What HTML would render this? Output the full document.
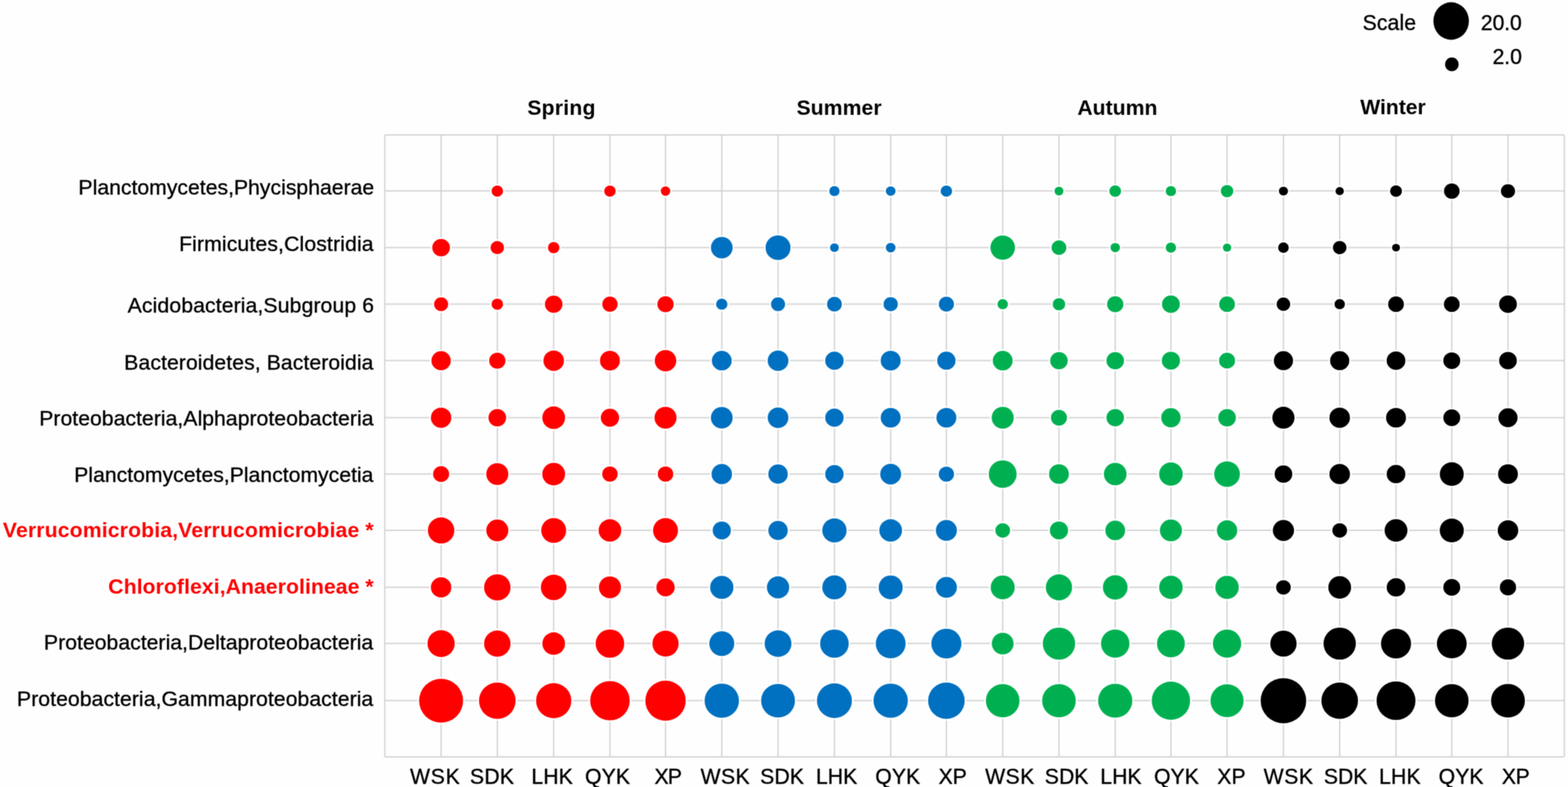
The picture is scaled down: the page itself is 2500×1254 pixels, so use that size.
<!DOCTYPE html>
<html lang="en">
<head>
<meta charset="utf-8">
<title>Seasonal bubble chart</title>
<style>
html,body{margin:0;padding:0;background:#fff;}
body{width:2500px;height:1254px;}
svg{display:block;}
text{font-family:"Liberation Sans",Arial,Helvetica,sans-serif;font-size:33.8px;fill:#000;stroke:#000;stroke-width:0.5px;stroke-linejoin:round;}
text.b{stroke:none;}
text.r{fill:#ff0000;}
</style>
</head>
<body>
<svg width="2500" height="1254" viewBox="0 0 2500 1254">
<defs><filter id="soft" x="0" y="0" width="2500" height="1254" filterUnits="userSpaceOnUse" color-interpolation-filters="sRGB"><feConvolveMatrix order="3" kernelMatrix="0.0439 0.1217 0.0439 0.1217 0.3377 0.1217 0.0439 0.1217 0.0439" edgeMode="duplicate" preserveAlpha="false"/></filter></defs>
<g id="chart" filter="url(#soft)">
<rect width="2500" height="1254" fill="#fefefe"/>
<g id="grid" fill="none" stroke="#d1d1d1" stroke-width="2">
<rect x="613.5" y="215.0" width="1880.7" height="990.9" rx="2"/>
<path d="M703.30 215.0V1205.9M792.90 215.0V1205.9M882.75 215.0V1205.9M972.50 215.0V1205.9M1061.10 215.0V1205.9M1150.80 215.0V1205.9M1240.50 215.0V1205.9M1330.40 215.0V1205.9M1420.10 215.0V1205.9M1508.90 215.0V1205.9M1598.70 215.0V1205.9M1688.40 215.0V1205.9M1778.10 215.0V1205.9M1866.90 215.0V1205.9M1956.40 215.0V1205.9M2046.30 215.0V1205.9M2136.00 215.0V1205.9M2225.80 215.0V1205.9M2314.70 215.0V1205.9M2404.30 215.0V1205.9M613.5 304.3H2494.2M613.5 394.4H2494.2M613.5 484.5H2494.2M613.5 574.5H2494.2M613.5 665.4H2494.2M613.5 755.2H2494.2M613.5 845.0H2494.2M613.5 935.7H2494.2M613.5 1025.3H2494.2M613.5 1116.3H2494.2"/>
</g>
<g id="spring" fill="#ff0000" stroke="#fff" stroke-width="5" paint-order="stroke">
<ellipse cx="792.9" cy="304.5" rx="9.2" ry="9.0"/>
<ellipse cx="972.5" cy="304.5" rx="9.2" ry="9.0"/>
<ellipse cx="1061.1" cy="304.5" rx="7.6" ry="7.4"/>
<ellipse cx="703.3" cy="394.6" rx="14.1" ry="13.9"/>
<ellipse cx="792.9" cy="394.6" rx="10.7" ry="10.5"/>
<ellipse cx="882.8" cy="394.6" rx="9.2" ry="9.0"/>
<ellipse cx="703.3" cy="484.7" rx="11.2" ry="11.0"/>
<ellipse cx="792.9" cy="484.7" rx="9.2" ry="9.0"/>
<ellipse cx="882.8" cy="484.7" rx="14.0" ry="13.8"/>
<ellipse cx="972.5" cy="484.7" rx="12.3" ry="12.1"/>
<ellipse cx="1061.1" cy="484.7" rx="13.0" ry="12.8"/>
<ellipse cx="703.3" cy="574.7" rx="15.4" ry="15.2"/>
<ellipse cx="792.9" cy="574.7" rx="13.0" ry="12.8"/>
<ellipse cx="882.8" cy="574.7" rx="16.4" ry="16.2"/>
<ellipse cx="972.5" cy="574.7" rx="15.9" ry="15.7"/>
<ellipse cx="1061.1" cy="574.7" rx="17.2" ry="17.0"/>
<ellipse cx="703.3" cy="665.6" rx="16.3" ry="16.1"/>
<ellipse cx="792.9" cy="665.6" rx="14.1" ry="13.9"/>
<ellipse cx="882.8" cy="665.6" rx="18.2" ry="18.0"/>
<ellipse cx="972.5" cy="665.6" rx="14.6" ry="14.4"/>
<ellipse cx="1061.1" cy="665.6" rx="17.6" ry="17.4"/>
<ellipse cx="703.3" cy="755.4" rx="12.8" ry="12.6"/>
<ellipse cx="792.9" cy="755.4" rx="17.6" ry="17.4"/>
<ellipse cx="882.8" cy="755.4" rx="18.2" ry="18.0"/>
<ellipse cx="972.5" cy="755.4" rx="12.3" ry="12.1"/>
<ellipse cx="1061.1" cy="755.4" rx="12.3" ry="12.1"/>
<ellipse cx="703.3" cy="845.2" rx="21.1" ry="20.9"/>
<ellipse cx="792.9" cy="845.2" rx="17.6" ry="17.4"/>
<ellipse cx="882.8" cy="845.2" rx="19.9" ry="19.7"/>
<ellipse cx="972.5" cy="845.2" rx="18.1" ry="17.9"/>
<ellipse cx="1061.1" cy="845.2" rx="19.9" ry="19.7"/>
<ellipse cx="703.3" cy="935.9" rx="16.3" ry="16.1"/>
<ellipse cx="792.9" cy="935.9" rx="21.1" ry="20.9"/>
<ellipse cx="882.8" cy="935.9" rx="20.5" ry="20.3"/>
<ellipse cx="972.5" cy="935.9" rx="17.6" ry="17.4"/>
<ellipse cx="1061.1" cy="935.9" rx="14.6" ry="14.4"/>
<ellipse cx="703.3" cy="1025.5" rx="21.7" ry="21.5"/>
<ellipse cx="792.9" cy="1025.5" rx="21.1" ry="20.9"/>
<ellipse cx="882.8" cy="1025.5" rx="18.1" ry="17.9"/>
<ellipse cx="972.5" cy="1025.5" rx="22.8" ry="22.6"/>
<ellipse cx="1061.1" cy="1025.5" rx="20.9" ry="20.7"/>
<ellipse cx="703.3" cy="1116.5" rx="35.1" ry="34.9"/>
<ellipse cx="792.9" cy="1116.5" rx="29.2" ry="29.0"/>
<ellipse cx="882.8" cy="1116.5" rx="28.1" ry="27.9"/>
<ellipse cx="972.5" cy="1116.5" rx="31.5" ry="31.3"/>
<ellipse cx="1061.1" cy="1116.5" rx="32.2" ry="32.0"/>
</g>
<g id="summer" fill="#0070c0" stroke="#fff" stroke-width="5" paint-order="stroke">
<ellipse cx="1330.4" cy="304.5" rx="8.2" ry="8.0"/>
<ellipse cx="1420.1" cy="304.5" rx="7.8" ry="7.6"/>
<ellipse cx="1508.9" cy="304.5" rx="9.2" ry="9.0"/>
<ellipse cx="1150.8" cy="394.6" rx="17.3" ry="17.1"/>
<ellipse cx="1240.5" cy="394.6" rx="19.9" ry="19.7"/>
<ellipse cx="1330.4" cy="394.6" rx="7.1" ry="6.9"/>
<ellipse cx="1420.1" cy="394.6" rx="7.8" ry="7.6"/>
<ellipse cx="1150.8" cy="484.7" rx="9.1" ry="8.9"/>
<ellipse cx="1240.5" cy="484.7" rx="11.2" ry="11.0"/>
<ellipse cx="1330.4" cy="484.7" rx="11.8" ry="11.6"/>
<ellipse cx="1420.1" cy="484.7" rx="11.4" ry="11.2"/>
<ellipse cx="1508.9" cy="484.7" rx="12.1" ry="11.9"/>
<ellipse cx="1150.8" cy="574.7" rx="15.8" ry="15.6"/>
<ellipse cx="1240.5" cy="574.7" rx="16.5" ry="16.3"/>
<ellipse cx="1330.4" cy="574.7" rx="14.7" ry="14.5"/>
<ellipse cx="1420.1" cy="574.7" rx="15.9" ry="15.7"/>
<ellipse cx="1508.9" cy="574.7" rx="14.6" ry="14.4"/>
<ellipse cx="1150.8" cy="665.6" rx="17.4" ry="17.2"/>
<ellipse cx="1240.5" cy="665.6" rx="16.5" ry="16.3"/>
<ellipse cx="1330.4" cy="665.6" rx="14.7" ry="14.5"/>
<ellipse cx="1420.1" cy="665.6" rx="15.9" ry="15.7"/>
<ellipse cx="1508.9" cy="665.6" rx="15.9" ry="15.7"/>
<ellipse cx="1150.8" cy="755.4" rx="16.3" ry="16.1"/>
<ellipse cx="1240.5" cy="755.4" rx="15.5" ry="15.3"/>
<ellipse cx="1330.4" cy="755.4" rx="14.7" ry="14.5"/>
<ellipse cx="1420.1" cy="755.4" rx="16.7" ry="16.5"/>
<ellipse cx="1508.9" cy="755.4" rx="12.2" ry="12.0"/>
<ellipse cx="1150.8" cy="845.2" rx="14.5" ry="14.3"/>
<ellipse cx="1240.5" cy="845.2" rx="15.5" ry="15.3"/>
<ellipse cx="1330.4" cy="845.2" rx="19.4" ry="19.2"/>
<ellipse cx="1420.1" cy="845.2" rx="18.1" ry="17.9"/>
<ellipse cx="1508.9" cy="845.2" rx="16.8" ry="16.6"/>
<ellipse cx="1150.8" cy="935.9" rx="18.6" ry="18.4"/>
<ellipse cx="1240.5" cy="935.9" rx="17.8" ry="17.6"/>
<ellipse cx="1330.4" cy="935.9" rx="19.4" ry="19.2"/>
<ellipse cx="1420.1" cy="935.9" rx="19.2" ry="19.0"/>
<ellipse cx="1508.9" cy="935.9" rx="16.8" ry="16.6"/>
<ellipse cx="1150.8" cy="1025.5" rx="19.9" ry="19.7"/>
<ellipse cx="1240.5" cy="1025.5" rx="21.4" ry="21.2"/>
<ellipse cx="1330.4" cy="1025.5" rx="22.8" ry="22.6"/>
<ellipse cx="1420.1" cy="1025.5" rx="23.8" ry="23.6"/>
<ellipse cx="1508.9" cy="1025.5" rx="24.0" ry="23.8"/>
<ellipse cx="1150.8" cy="1116.5" rx="27.4" ry="27.2"/>
<ellipse cx="1240.5" cy="1116.5" rx="27.0" ry="26.8"/>
<ellipse cx="1330.4" cy="1116.5" rx="27.9" ry="27.7"/>
<ellipse cx="1420.1" cy="1116.5" rx="27.4" ry="27.2"/>
<ellipse cx="1508.9" cy="1116.5" rx="29.2" ry="29.0"/>
</g>
<g id="autumn" fill="#00b050" stroke="#fff" stroke-width="5" paint-order="stroke">
<ellipse cx="1688.4" cy="304.5" rx="7.1" ry="6.9"/>
<ellipse cx="1778.1" cy="304.5" rx="9.4" ry="9.2"/>
<ellipse cx="1866.9" cy="304.5" rx="8.3" ry="8.1"/>
<ellipse cx="1956.4" cy="304.5" rx="10.0" ry="9.8"/>
<ellipse cx="1598.7" cy="394.6" rx="19.6" ry="19.4"/>
<ellipse cx="1688.4" cy="394.6" rx="11.8" ry="11.6"/>
<ellipse cx="1778.1" cy="394.6" rx="7.6" ry="7.4"/>
<ellipse cx="1866.9" cy="394.6" rx="8.3" ry="8.1"/>
<ellipse cx="1956.4" cy="394.6" rx="6.7" ry="6.5"/>
<ellipse cx="1598.7" cy="484.7" rx="8.3" ry="8.1"/>
<ellipse cx="1688.4" cy="484.7" rx="10.0" ry="9.8"/>
<ellipse cx="1778.1" cy="484.7" rx="13.0" ry="12.8"/>
<ellipse cx="1866.9" cy="484.7" rx="14.2" ry="14.0"/>
<ellipse cx="1956.4" cy="484.7" rx="12.6" ry="12.4"/>
<ellipse cx="1598.7" cy="574.7" rx="15.8" ry="15.6"/>
<ellipse cx="1688.4" cy="574.7" rx="14.0" ry="13.8"/>
<ellipse cx="1778.1" cy="574.7" rx="14.0" ry="13.8"/>
<ellipse cx="1866.9" cy="574.7" rx="14.5" ry="14.3"/>
<ellipse cx="1956.4" cy="574.7" rx="12.8" ry="12.6"/>
<ellipse cx="1598.7" cy="665.6" rx="17.6" ry="17.4"/>
<ellipse cx="1688.4" cy="665.6" rx="12.8" ry="12.6"/>
<ellipse cx="1778.1" cy="665.6" rx="14.0" ry="13.8"/>
<ellipse cx="1866.9" cy="665.6" rx="15.5" ry="15.3"/>
<ellipse cx="1956.4" cy="665.6" rx="14.1" ry="13.9"/>
<ellipse cx="1598.7" cy="755.4" rx="22.2" ry="22.0"/>
<ellipse cx="1688.4" cy="755.4" rx="15.8" ry="15.6"/>
<ellipse cx="1778.1" cy="755.4" rx="18.1" ry="17.9"/>
<ellipse cx="1866.9" cy="755.4" rx="18.8" ry="18.6"/>
<ellipse cx="1956.4" cy="755.4" rx="20.5" ry="20.3"/>
<ellipse cx="1598.7" cy="845.2" rx="11.7" ry="11.5"/>
<ellipse cx="1688.4" cy="845.2" rx="14.5" ry="14.3"/>
<ellipse cx="1778.1" cy="845.2" rx="15.8" ry="15.6"/>
<ellipse cx="1866.9" cy="845.2" rx="17.6" ry="17.4"/>
<ellipse cx="1956.4" cy="845.2" rx="16.3" ry="16.1"/>
<ellipse cx="1598.7" cy="935.9" rx="19.2" ry="19.0"/>
<ellipse cx="1688.4" cy="935.9" rx="21.0" ry="20.8"/>
<ellipse cx="1778.1" cy="935.9" rx="19.7" ry="19.5"/>
<ellipse cx="1866.9" cy="935.9" rx="18.8" ry="18.6"/>
<ellipse cx="1956.4" cy="935.9" rx="18.7" ry="18.5"/>
<ellipse cx="1598.7" cy="1025.5" rx="17.4" ry="17.2"/>
<ellipse cx="1688.4" cy="1025.5" rx="25.8" ry="25.6"/>
<ellipse cx="1778.1" cy="1025.5" rx="22.7" ry="22.5"/>
<ellipse cx="1866.9" cy="1025.5" rx="22.2" ry="22.0"/>
<ellipse cx="1956.4" cy="1025.5" rx="22.6" ry="22.4"/>
<ellipse cx="1598.7" cy="1116.5" rx="26.8" ry="26.6"/>
<ellipse cx="1688.4" cy="1116.5" rx="26.8" ry="26.6"/>
<ellipse cx="1778.1" cy="1116.5" rx="27.3" ry="27.1"/>
<ellipse cx="1866.9" cy="1116.5" rx="30.6" ry="30.4"/>
<ellipse cx="1956.4" cy="1116.5" rx="26.4" ry="26.2"/>
</g>
<g id="winter" fill="#000000" stroke="#fff" stroke-width="5" paint-order="stroke">
<ellipse cx="2046.3" cy="304.5" rx="7.3" ry="7.1"/>
<ellipse cx="2136.0" cy="304.5" rx="6.7" ry="6.5"/>
<ellipse cx="2225.8" cy="304.5" rx="9.5" ry="9.3"/>
<ellipse cx="2314.7" cy="304.5" rx="12.4" ry="12.2"/>
<ellipse cx="2404.3" cy="304.5" rx="11.3" ry="11.1"/>
<ellipse cx="2046.3" cy="394.6" rx="8.5" ry="8.3"/>
<ellipse cx="2136.0" cy="394.6" rx="10.8" ry="10.6"/>
<ellipse cx="2225.8" cy="394.6" rx="6.4" ry="6.2"/>
<ellipse cx="2046.3" cy="484.7" rx="10.8" ry="10.6"/>
<ellipse cx="2136.0" cy="484.7" rx="8.3" ry="8.1"/>
<ellipse cx="2225.8" cy="484.7" rx="12.6" ry="12.4"/>
<ellipse cx="2314.7" cy="484.7" rx="12.6" ry="12.4"/>
<ellipse cx="2404.3" cy="484.7" rx="14.2" ry="14.0"/>
<ellipse cx="2046.3" cy="574.7" rx="15.3" ry="15.1"/>
<ellipse cx="2136.0" cy="574.7" rx="15.3" ry="15.1"/>
<ellipse cx="2225.8" cy="574.7" rx="14.9" ry="14.7"/>
<ellipse cx="2314.7" cy="574.7" rx="13.5" ry="13.3"/>
<ellipse cx="2404.3" cy="574.7" rx="14.1" ry="13.9"/>
<ellipse cx="2046.3" cy="665.6" rx="17.7" ry="17.5"/>
<ellipse cx="2136.0" cy="665.6" rx="16.4" ry="16.2"/>
<ellipse cx="2225.8" cy="665.6" rx="15.9" ry="15.7"/>
<ellipse cx="2314.7" cy="665.6" rx="13.5" ry="13.3"/>
<ellipse cx="2404.3" cy="665.6" rx="15.3" ry="15.1"/>
<ellipse cx="2046.3" cy="755.4" rx="14.1" ry="13.9"/>
<ellipse cx="2136.0" cy="755.4" rx="16.4" ry="16.2"/>
<ellipse cx="2225.8" cy="755.4" rx="14.9" ry="14.7"/>
<ellipse cx="2314.7" cy="755.4" rx="19.1" ry="18.9"/>
<ellipse cx="2404.3" cy="755.4" rx="15.8" ry="15.6"/>
<ellipse cx="2046.3" cy="845.2" rx="16.9" ry="16.7"/>
<ellipse cx="2136.0" cy="845.2" rx="11.7" ry="11.5"/>
<ellipse cx="2225.8" cy="845.2" rx="18.2" ry="18.0"/>
<ellipse cx="2314.7" cy="845.2" rx="19.2" ry="19.0"/>
<ellipse cx="2404.3" cy="845.2" rx="16.4" ry="16.2"/>
<ellipse cx="2046.3" cy="935.9" rx="11.7" ry="11.5"/>
<ellipse cx="2136.0" cy="935.9" rx="18.2" ry="18.0"/>
<ellipse cx="2225.8" cy="935.9" rx="14.9" ry="14.7"/>
<ellipse cx="2314.7" cy="935.9" rx="13.5" ry="13.3"/>
<ellipse cx="2404.3" cy="935.9" rx="13.0" ry="12.8"/>
<ellipse cx="2046.3" cy="1025.5" rx="21.0" ry="20.8"/>
<ellipse cx="2136.0" cy="1025.5" rx="25.8" ry="25.6"/>
<ellipse cx="2225.8" cy="1025.5" rx="24.0" ry="23.8"/>
<ellipse cx="2314.7" cy="1025.5" rx="23.8" ry="23.6"/>
<ellipse cx="2404.3" cy="1025.5" rx="25.8" ry="25.6"/>
<ellipse cx="2046.3" cy="1116.5" rx="36.3" ry="36.1"/>
<ellipse cx="2136.0" cy="1116.5" rx="29.2" ry="29.0"/>
<ellipse cx="2225.8" cy="1116.5" rx="31.0" ry="30.8"/>
<ellipse cx="2314.7" cy="1116.5" rx="26.8" ry="26.6"/>
<ellipse cx="2404.3" cy="1116.5" rx="27.0" ry="26.8"/>
</g>
<g id="legend" fill="#000"><ellipse cx="2313.7" cy="33.5" rx="28.3" ry="29.9"/><ellipse cx="2314.8" cy="102.5" rx="10.8" ry="11.1"/></g>
<g id="labels">
<text id="t0" x="125.09" y="309.70" textLength="471.52" lengthAdjust="spacing" xml:space="preserve">Planctomycetes,Phycisphaerae</text>
<text id="t1" x="285.38" y="399.80" textLength="310.28" lengthAdjust="spacing" xml:space="preserve">Firmicutes,Clostridia</text>
<text id="t2" x="203.56" y="497.50" textLength="392.75" lengthAdjust="spacing" xml:space="preserve">Acidobacteria,Subgroup 6</text>
<text id="t3" x="198.09" y="588.90" textLength="397.31" lengthAdjust="spacing" xml:space="preserve">Bacteroidetes, Bacteroidia</text>
<text id="t4" x="62.52" y="678.10" textLength="532.98" lengthAdjust="spacing" xml:space="preserve">Proteobacteria,Alphaproteobacteria</text>
<text id="t5" x="118.33" y="768.40" textLength="477.07" lengthAdjust="spacing" xml:space="preserve">Planctomycetes,Planctomycetia</text>
<text id="t6" x="4.57" y="856.20" textLength="591.21" lengthAdjust="spacing" font-weight="700" class="b r" xml:space="preserve">Verrucomicrobia,Verrucomicrobiae *</text>
<text id="t7" x="172.61" y="945.80" textLength="423.17" lengthAdjust="spacing" font-weight="700" class="b r" xml:space="preserve">Chloroflexi,Anaerolineae *</text>
<text id="t8" x="70.09" y="1035.20" textLength="525.04" lengthAdjust="spacing" xml:space="preserve">Proteobacteria,Deltaproteobacteria</text>
<text id="t9" x="27.09" y="1124.50" textLength="568.08" lengthAdjust="spacing" xml:space="preserve">Proteobacteria,Gammaproteobacteria</text>
<text id="t10" x="840.68" y="182.80" textLength="108.83" lengthAdjust="spacing" font-weight="700" class="b" xml:space="preserve">Spring</text>
<text id="t11" x="1269.98" y="182.80" textLength="135.67" lengthAdjust="spacing" font-weight="700" class="b" xml:space="preserve">Summer</text>
<text id="t12" x="1717.70" y="182.80" textLength="127.67" lengthAdjust="spacing" font-weight="700" class="b" xml:space="preserve">Autumn</text>
<text id="t13" x="2168.86" y="182.40" textLength="104.26" lengthAdjust="spacing" font-weight="700" class="b" xml:space="preserve">Winter</text>
<text id="t14" x="2172.57" y="0" transform="translate(0 47.80) scale(1 1.02)" textLength="85.20" lengthAdjust="spacing" xml:space="preserve">Scale</text>
<text id="t15" x="2361.03" y="0" transform="translate(0 47.80) scale(1 1.02)" textLength="65.26" lengthAdjust="spacing" xml:space="preserve">20.0</text>
<text id="t16" x="2379.65" y="0" transform="translate(0 101.80) scale(1 1.02)" textLength="46.81" lengthAdjust="spacing" xml:space="preserve">2.0</text>
<text id="t17" x="653.80" y="0" transform="translate(0 1248.70) scale(1 1.04)" textLength="79.23" lengthAdjust="spacing" xml:space="preserve">WSK</text>
<text id="t18" x="749.35" y="0" transform="translate(0 1248.70) scale(1 1.04)" textLength="70.23" lengthAdjust="spacing" xml:space="preserve">SDK</text>
<text id="t19" x="847.13" y="0" transform="translate(0 1248.70) scale(1 1.04)" textLength="66.29" lengthAdjust="spacing" xml:space="preserve">LHK</text>
<text id="t20" x="932.65" y="0" transform="translate(0 1248.70) scale(1 1.04)" textLength="71.93" lengthAdjust="spacing" xml:space="preserve">QYK</text>
<text id="t21" x="1043.51" y="0" transform="translate(0 1248.70) scale(1 1.04)" textLength="43.91" lengthAdjust="spacing" xml:space="preserve">XP</text>
<text id="t22" x="1117.04" y="0" transform="translate(0 1248.70) scale(1 1.04)" textLength="78.27" lengthAdjust="spacing" xml:space="preserve">WSK</text>
<text id="t23" x="1211.94" y="0" transform="translate(0 1248.70) scale(1 1.04)" textLength="69.96" lengthAdjust="spacing" xml:space="preserve">SDK</text>
<text id="t24" x="1301.09" y="0" transform="translate(0 1248.70) scale(1 1.04)" textLength="65.63" lengthAdjust="spacing" xml:space="preserve">LHK</text>
<text id="t25" x="1395.49" y="0" transform="translate(0 1248.70) scale(1 1.04)" textLength="71.61" lengthAdjust="spacing" xml:space="preserve">QYK</text>
<text id="t26" x="1496.41" y="0" transform="translate(0 1248.70) scale(1 1.04)" textLength="45.10" lengthAdjust="spacing" xml:space="preserve">XP</text>
<text id="t27" x="1570.68" y="0" transform="translate(0 1248.70) scale(1 1.04)" textLength="78.46" lengthAdjust="spacing" xml:space="preserve">WSK</text>
<text id="t28" x="1665.88" y="0" transform="translate(0 1248.70) scale(1 1.04)" textLength="69.45" lengthAdjust="spacing" xml:space="preserve">SDK</text>
<text id="t29" x="1754.33" y="0" transform="translate(0 1248.70) scale(1 1.04)" textLength="65.78" lengthAdjust="spacing" xml:space="preserve">LHK</text>
<text id="t30" x="1839.96" y="0" transform="translate(0 1248.70) scale(1 1.04)" textLength="71.48" lengthAdjust="spacing" xml:space="preserve">QYK</text>
<text id="t31" x="1940.80" y="0" transform="translate(0 1248.70) scale(1 1.04)" textLength="45.14" lengthAdjust="spacing" xml:space="preserve">XP</text>
<text id="t32" x="2014.88" y="0" transform="translate(0 1248.70) scale(1 1.04)" textLength="78.59" lengthAdjust="spacing" xml:space="preserve">WSK</text>
<text id="t33" x="2110.65" y="0" transform="translate(0 1248.70) scale(1 1.04)" textLength="69.40" lengthAdjust="spacing" xml:space="preserve">SDK</text>
<text id="t34" x="2198.80" y="0" transform="translate(0 1248.70) scale(1 1.04)" textLength="66.24" lengthAdjust="spacing" xml:space="preserve">LHK</text>
<text id="t35" x="2293.80" y="0" transform="translate(0 1248.70) scale(1 1.04)" textLength="71.56" lengthAdjust="spacing" xml:space="preserve">QYK</text>
<text id="t36" x="2394.41" y="0" transform="translate(0 1248.70) scale(1 1.04)" textLength="44.55" lengthAdjust="spacing" xml:space="preserve">XP</text>
</g>
</g>
</svg>
</body>
</html>
